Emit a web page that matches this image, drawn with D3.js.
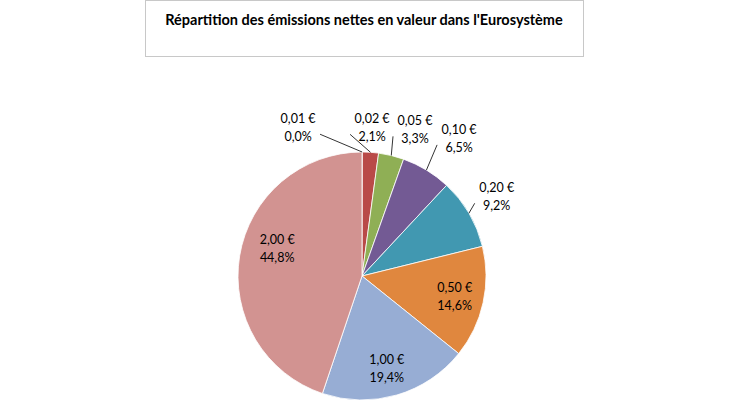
<!DOCTYPE html>
<html><head><meta charset="utf-8">
<script src="https://cdn.jsdelivr.net/npm/d3@7"></script>
<style>body{margin:0;background:#fff}</style></head>
<body><svg id="c" width="730" height="410"></svg>
<script>
const categories = ["0,01 €","0,02 €","0,05 €","0,10 €","0,20 €","0,50 €","1,00 €","2,00 €"];
const percentLabels = ["0,0%","2,1%","3,3%","6,5%","9,2%","14,6%","19,4%","44,8%"];
const values = [0.04,2.1,3.3,6.5,9.2,14.6,19.4,44.8];
const colors = ["#4F81BD","#B94A48","#8FAF55","#735A94","#4198B1","#E0873E","#97ADD4","#D29391"];
// label placement: [angle deg, radius, outside?]
const labelPlace = [[-23.4,161,1],[3.9,148,1],[20,155,1],[35.3,168,1],[59.7,156,1],[102.7,95,0],[165,96,0],[287.6,89,0]];

const svg = d3.select("#c");
const font = "Lato, 'Open Sans', sans-serif";
svg.append("rect").attr("x",145.5).attr("y",0.5).attr("width",438).attr("height",56)
  .attr("fill","#fff").attr("stroke","#c8c8c8");
svg.append("text").attr("x",364).attr("y",25).attr("text-anchor","middle")
  .attr("font-family",font).attr("font-weight","bold").attr("font-size",14.5)
  .text("Répartition des émissions nettes en valeur dans l'Eurosystème");

const cx=362, cy=276, R=124;
const g = svg.append("g").attr("transform",`translate(${cx},${cy})`);
const pie = d3.pie().sort(null).value(d=>d)(values);
const arc = d3.arc().innerRadius(0).outerRadius(R);
g.selectAll("path").data(pie).join("path").attr("d",arc)
  .attr("fill",(d,i)=>colors[i]).attr("stroke","#fff").attr("stroke-width",0.8);

pie.forEach((d,i)=>{
  const [a,r,out] = labelPlace[i];
  const [lx,ly] = d3.pointRadial(a*Math.PI/180, r);
  if(out){
    const mid=(d.startAngle+d.endAngle)/2;
    const p0=d3.pointRadial(mid,R);
    const p1=d3.pointRadial(a*Math.PI/180, r-20);
    const ex = i===0 ? lx+22 : (lx<0? lx+20 : lx-22);
    g.append("polyline").attr("points",`${p0[0]},${p0[1]} ${ex},${ly+6}`)
      .attr("fill","none").attr("stroke","#000").attr("stroke-width",0.8);
  }
  const t=g.append("text").attr("text-anchor","middle").attr("font-family",font).attr("font-size",12.5).attr("fill","#000");
  t.append("tspan").attr("x",lx).attr("y",ly-5).text(categories[i]);
  t.append("tspan").attr("x",lx).attr("y",ly+13).text(percentLabels[i]);
});
</script></body></html>
